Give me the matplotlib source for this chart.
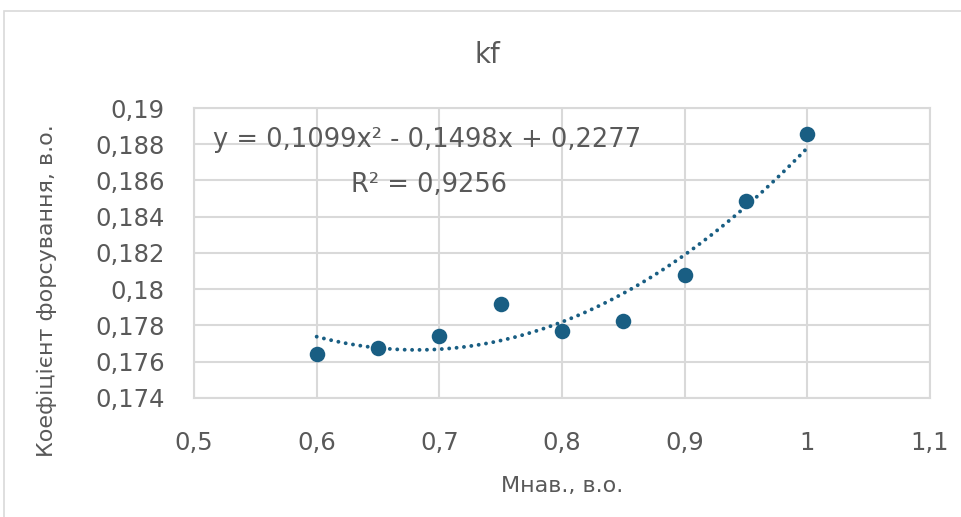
import numpy as np
import matplotlib.pyplot as plt
from matplotlib.ticker import FuncFormatter, MultipleLocator
from matplotlib.patches import Rectangle

# дані з графіка
m_nav = [0.6, 0.65, 0.7, 0.75, 0.8, 0.85, 0.9, 0.95, 1.0]
kf = [0.17644, 0.17677, 0.17743, 0.17920, 0.17770, 0.17826, 0.18077, 0.18485, 0.18859]
# коефіцієнти лінії тренду (з підпису на графіку)
trend_coef = [0.1099, -0.1498, 0.2277]
trend_label = 'y = 0,1099x² - 0,1498x + 0,2277'
r2_label = 'R² = 0,9256'

plt.rcParams['font.family'] = ['DejaVu Sans']
text_color = '#595959'
grid_color = '#D9D9D9'
point_color = '#195E83'

W, H = 961, 517
fig = plt.figure(figsize=(W / 100, H / 100), dpi=100)
ax = fig.add_axes([194 / W, 1 - 398 / H, (930 - 194) / W, (398 - 108) / H])

# рамка діаграми
fig.patches.append(Rectangle((4 / W, -0.1), 1.2, 1 - 11 / H + 0.1, transform=fig.transFigure,
                             fill=False, edgecolor=grid_color, linewidth=1.2))

ax.scatter(m_nav, kf, s=125, color=point_color, zorder=3, linewidths=0)

xt = np.linspace(min(m_nav), max(m_nav), 200)
ax.plot(xt, np.polyval(trend_coef, xt), color=point_color, linewidth=2.8,
        linestyle=(0, (0.01, 1.9)), dash_capstyle='round', zorder=2)

ax.set_xlim(0.5, 1.1)
ax.set_ylim(0.174, 0.19)
ax.xaxis.set_major_locator(MultipleLocator(0.1))
ax.yaxis.set_major_locator(MultipleLocator(0.002))
fmt = FuncFormatter(lambda v, p: f'{round(v, 4):g}'.replace('.', ','))
ax.xaxis.set_major_formatter(fmt)
ax.yaxis.set_major_formatter(fmt)
ax.tick_params(length=0, labelsize=17.5, labelcolor=text_color)
ax.tick_params(axis='x', pad=24)
ax.tick_params(axis='y', pad=21)
ax.grid(True, color=grid_color, linewidth=1.5)
ax.set_axisbelow(True)
for s in ax.spines.values():
    s.set_color(grid_color)
    s.set_linewidth(1.5)

fig.text(487 / W, 1 - 63 / H, 'kf', ha='center', va='baseline', fontsize=20, color=text_color)
fig.text(562 / W, 1 - 492 / H, 'Мнав., в.о.', ha='center', va='baseline', fontsize=16, color=text_color)
fig.text(47 / W, 1 - 291 / H, 'Коефіцієнт форсування, в.о.', ha='center', va='center',
         rotation=90, fontsize=16, color=text_color)

fig.text(427 / W, 1 - 147 / H, trend_label, ha='center', va='baseline', fontsize=18.5, color=text_color)
fig.text(429 / W, 1 - 192 / H, r2_label, ha='center', va='baseline', fontsize=18.5, color=text_color)

fig.savefig('out.png', dpi=100)
